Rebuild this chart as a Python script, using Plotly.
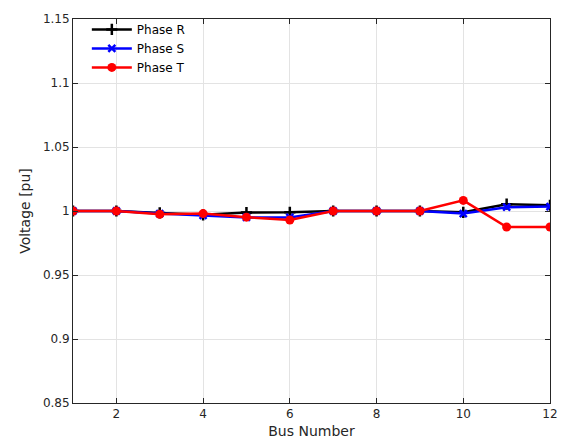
import plotly.graph_objects as go

bus = list(range(1, 13))
phase_r = [1.000, 1.000, 0.9985, 0.997, 0.9988, 0.999, 1.000, 1.000, 1.000, 0.999, 1.0053, 1.0045]
phase_s = [1.000, 1.000, 0.998, 0.9966, 0.995, 0.995, 1.000, 1.000, 1.000, 0.998, 1.003, 1.0035]
phase_t = [1.000, 1.000, 0.9975, 0.998, 0.9952, 0.993, 1.000, 1.000, 1.000, 1.0083, 0.9875, 0.9875]

y_ticks = [0.85, 0.9, 0.95, 1.0, 1.05, 1.1, 1.15]
y_labels = ["0.85", "0.9", "0.95", "1", "1.05", "1.1", "1.15"]
x_ticks = [2, 4, 6, 8, 10, 12]

fig = go.Figure()
fig.add_trace(go.Scatter(x=bus, y=phase_r, name="Phase R", mode="lines+markers",
                         line=dict(color="black", width=2.5),
                         marker=dict(symbol="cross-thin-open", size=8, line=dict(color="black", width=2.5))))
fig.add_trace(go.Scatter(x=bus, y=phase_s, name="Phase S", mode="lines+markers",
                         line=dict(color="blue", width=2.5),
                         marker=dict(symbol="x-thin-open", size=7, line=dict(color="blue", width=2.5))))
fig.add_trace(go.Scatter(x=bus, y=phase_t, name="Phase T", mode="lines+markers",
                         line=dict(color="red", width=2.5),
                         marker=dict(symbol="circle", size=9, color="red")))

axis_common = dict(showline=True, linecolor="#262626", linewidth=1, mirror="ticks",
                   ticks="inside", ticklen=5, tickcolor="#262626", automargin=False,
                   showgrid=True, gridcolor="#e3e3e3", gridwidth=1, zeroline=False,
                   ticklabeloverflow="allow",
                   tickfont=dict(family="DejaVu Sans", size=12, color="#262626"))

fig.update_layout(
    width=550, height=431, autosize=False,
    margin=dict(l=65, r=8, t=10, b=36),
    paper_bgcolor="white", plot_bgcolor="white",
    font=dict(family="DejaVu Sans", color="#262626"),
    showlegend=True,
    legend=dict(x=0.029, y=1.008, xanchor="left", yanchor="top", bgcolor="rgba(255,255,255,0)",
                borderwidth=0, font=dict(size=12, color="black"), tracegroupgap=0,
                itemwidth=40),
    xaxis=dict(range=[1, 12], tickvals=x_ticks,
               title=dict(text="Bus Number", font=dict(size=14), standoff=9), **axis_common),
    yaxis=dict(range=[0.85, 1.15], tickvals=y_ticks, ticktext=y_labels,
               title=dict(text="Voltage [pu]", font=dict(size=14), standoff=8), **axis_common),
)

fig.write_html("out.html")
